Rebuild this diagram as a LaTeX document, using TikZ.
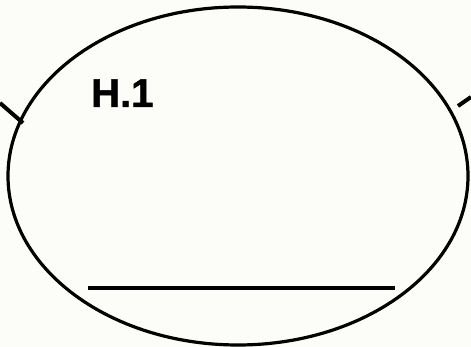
\documentclass[tikz,border=0pt]{standalone}
\usepackage{fontspec}
\setmainfont{Liberation Sans}[BoldFeatures={FakeBold=1.2}]
\begin{document}
\begin{tikzpicture}[x=1pt,y=-1pt,
  outline/.style={line width=3.2pt,draw=black},
  stub/.style={line width=4pt,draw=black},
  label/.style={font=\fontsize{40}{40}\selectfont\bfseries,inner sep=0pt,anchor=base west}]
\fill[fill={rgb,255:red,252;green,252;blue,248}] (0,0) rectangle (471,347);
\useasboundingbox (0,0) rectangle (471,347);
\draw[outline] (238,176) ellipse [x radius=230,y radius=169];
\coordinate (lo) at (0,103);
\coordinate (li) at (23,123);
\coordinate (ri) at (458,106);
\coordinate (ro) at (471,97);
\draw[stub] (lo) -- (li);
\draw[stub] (ri) -- (ro);
\coordinate (hl) at (88,288);
\coordinate (hr) at (395,288);
\draw[stub] (hl) -- (hr);
\node[label] (h1) at (91,107) {H.1};
\end{tikzpicture}
\end{document}
